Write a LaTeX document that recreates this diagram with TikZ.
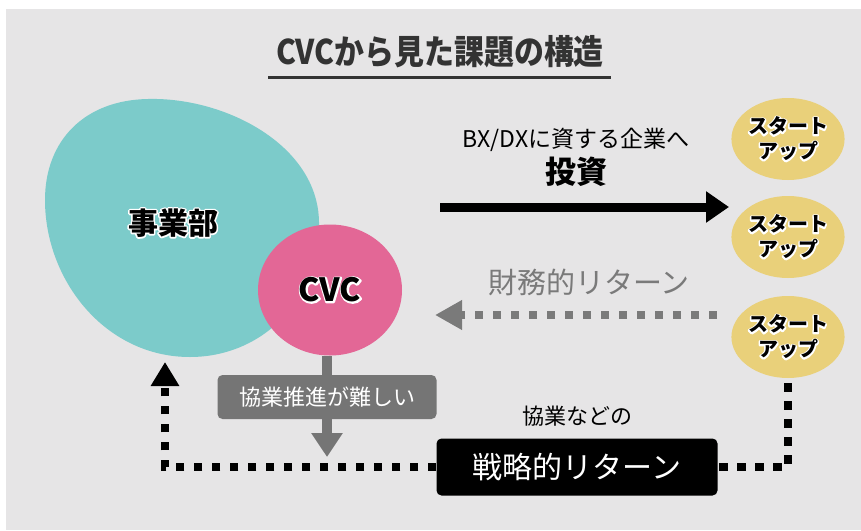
\documentclass[tikz,border=0pt]{standalone}
\usepackage{fontspec}
\setmainfont{Noto Sans CJK JP}
\newfontfamily\titlefont[FakeStretch=0.88]{Noto Sans CJK JP}
\usetikzlibrary{arrows.meta,shapes.geometric}
\definecolor{bggray}{HTML}{E6E5E6}
\definecolor{titlegray}{HTML}{333333}
\definecolor{tealblob}{HTML}{7CCBCA}
\definecolor{pinkcvc}{HTML}{E36796}
\definecolor{yellowsu}{HTML}{E9D07A}
\definecolor{boxgray}{HTML}{757575}
\definecolor{fingray}{HTML}{7A7A7A}
% black text with a thin white halo: a stroked white copy under the filled text
\newcommand\olt[1]{\leavevmode\rlap{\special{pdf:code q 1 Tr 1 G 3 w 1 j}#1\special{pdf:code Q}}#1}
\tikzset{
  startup/.style={ellipse, fill=yellowsu, minimum width=100pt, minimum height=82pt, inner sep=0pt,
    align=center, font=\bfseries\fontsize{20}{25}\selectfont},
  graybox/.style={rectangle, rounded corners=5pt, fill=boxgray, text=white, minimum width=219pt,
    minimum height=44pt, font=\fontsize{22}{24}\selectfont},
  blackbox/.style={rectangle, rounded corners=5pt, fill=black, text=white, minimum width=281pt,
    minimum height=57pt, font=\fontsize{30}{32}\selectfont},
  dotline/.style={line width=8pt, dash pattern=on 8.5pt off 9.5pt, line cap=butt},
  grayarrow/.style={draw=boxgray, line width=10pt},
}
\begin{document}
\begin{tikzpicture}[x=1pt,y=-1pt]
\useasboundingbox (0,0) rectangle (861,530);
\fill[white] (0,0) rectangle (861,530);
\fill[bggray] (6,9) rectangle (861,530);

% title
\node[text=titlegray, inner sep=0pt] (title) at (440,52) {\titlefont\bfseries\fontsize{34}{38}\selectfont CVCから見た課題の構造};
\draw[titlegray, line width=3pt] (268,77) -- (611,77);

% business division blob
\fill[tealblob] (148,99) .. controls (225,97) and (318,145) .. (319,222)
  .. controls (320,300) and (262,357) .. (190,357)
  .. controls (105,357) and (45,280) .. (45,200)
  .. controls (45,140) and (85,100) .. (148,99) -- cycle;
\node[font=\bfseries\fontsize{30}{32}\selectfont] (jigyo) at (173,223) {\olt{事業部}};

% CVC
\node[ellipse, fill=pinkcvc, minimum width=144pt, minimum height=131pt, inner sep=0pt,
  font=\bfseries\fontsize{32}{34}\selectfont] (cvc) at (330,290) {\olt{CVC}};

% startups
\node[startup] (s1) at (788,139) {\olt{スタート}\\\olt{アップ}};
\node[startup] (s2) at (788,237) {\olt{スタート}\\\olt{アップ}};
\node[startup] (s3) at (788,337) {\olt{スタート}\\\olt{アップ}};

% investment
\node[font=\fontsize{23}{26}\selectfont] (bx) at (576,140) {BX/DXに資する企業へ};
\node[font=\bfseries\fontsize{31}{34}\selectfont] (toushi) at (576,172) {投資};
\coordinate (invS) at (440,207);
\coordinate (invE) at (729,207);
\draw[line width=9pt, -{Triangle[length=23pt,width=30pt]}] (invS) -- (invE);

% financial return
\node[text=fingray, font=\fontsize{29}{32}\selectfont] (fin) at (589,282) {財務的リターン};
\coordinate (finS) at (717,315);
\coordinate (finE) at (435,315);
\draw[fingray, dotline, -{Triangle[length=27pt,width=28pt]}] (finS) -- (finE);

% difficulty box
\node[graybox] (hard) at (327,397) {協業推進が難しい};
\coordinate (hardTip) at (327,457);
\draw[grayarrow] (hard.north |- cvc.south) -- (hard.north);
\draw[grayarrow, -{Triangle[length=24pt,width=30pt]}] (hard.south) -- (hardTip);

% strategic return
\node[font=\fontsize{22}{24}\selectfont] (kyogyo) at (577,416) {協業などの};
\node[blackbox] (strat) at (577,467) {戦略的リターン};
\coordinate (leftTip) at (165,362);
\draw[dotline, shorten <=5pt] (s3.south) -- (s3.south |- strat.east) -- (strat.east);
\draw[dotline, -{Triangle[length=24pt,width=27pt]}] (strat.west) -- (leftTip |- strat.west) -- (leftTip);
\end{tikzpicture}
\end{document}
